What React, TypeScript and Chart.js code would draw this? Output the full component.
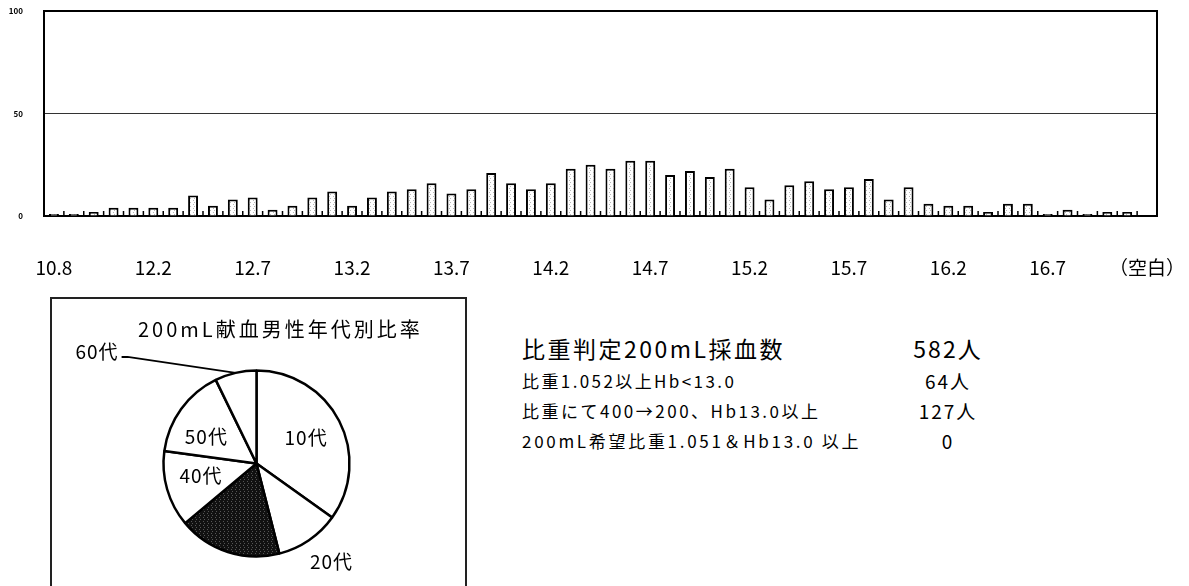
import React, { useEffect, useRef } from 'react';
import { Chart, registerables } from 'chart.js';

Chart.register(...registerables);

// Hemoglobin (Hb) classes on the x axis; only every fifth one is labelled.
const hbLabels = [
  '10.8', '11.5', '11.8', '12.0', '12.1',
  '12.2', '12.3', '12.4', '12.5', '12.6', '12.7', '12.8', '12.9', '13.0', '13.1',
  '13.2', '13.3', '13.4', '13.5', '13.6', '13.7', '13.8', '13.9', '14.0', '14.1',
  '14.2', '14.3', '14.4', '14.5', '14.6', '14.7', '14.8', '14.9', '15.0', '15.1',
  '15.2', '15.3', '15.4', '15.5', '15.6', '15.7', '15.8', '15.9', '16.0', '16.1',
  '16.2', '16.3', '16.4', '16.5', '16.6', '16.7', '16.8', '16.9', '17.0', '17.1',
  '（空白）',
];

// Donors per Hb class.
const hbCounts = [
  1, 1, 2, 4, 4,
  4, 4, 10, 5, 8, 9, 3, 5, 9, 12,
  5, 9, 12, 13, 16, 11, 13, 21, 16, 13,
  16, 23, 25, 23, 27, 27, 20, 22, 19, 23,
  14, 8, 15, 17, 13, 14, 18, 8, 14, 6,
  5, 5, 2, 6, 6, 1, 3, 1, 2, 2,
  0,
];

const yTickValues = [0, 50, 100];
const labelEvery = 5;

// Age breakdown of male 200 mL donors.
const ageTitle = '200mL献血男性年代別比率';
const ageLabels = ['10代', '20代', '30代', '40代', '50代', '60代'];
const ageCounts = [203, 65, 104, 77, 91, 42];

// Summary table on the right.
const summaryLabels = [
  '比重判定200mL採血数',
  '比重1.052以上Hb<13.0',
  '比重にて400→200、Hb13.0以上',
  '200mL希望比重1.051＆Hb13.0 以上',
];
const summaryValues = ['582人', '64人', '127人', '0'];

const FONT = "'Noto Sans CJK JP', 'Noto Sans', sans-serif";

function speckle(base: string, dot: string): CanvasPattern | string {
  const c = document.createElement('canvas');
  c.width = 4;
  c.height = 4;
  const g = c.getContext('2d');
  if (!g) return base;
  g.fillStyle = base;
  g.fillRect(0, 0, 4, 4);
  g.fillStyle = dot;
  g.fillRect(1, 0, 1, 1);
  g.fillRect(2, 2, 1, 1);
  const p = g.createPattern(c, 'repeat');
  return p || base;
}

// Short category separators rising from the x axis, plus the top/right frame.
const frameAndTicks = {
  id: 'frameAndTicks',
  afterDatasetsDraw(chart: any) {
    const { ctx, chartArea: a } = chart;
    const x = chart.scales.x;
    const n = chart.data.labels.length;
    ctx.save();
    ctx.strokeStyle = '#000';
    ctx.lineWidth = 1.5;
    for (let i = 1; i < n; i++) {
      const bx = (x.getPixelForValue(i - 1) + x.getPixelForValue(i)) / 2;
      ctx.beginPath();
      ctx.moveTo(bx, a.bottom);
      ctx.lineTo(bx, a.bottom - 5);
      ctx.stroke();
    }
    ctx.lineWidth = 2;
    ctx.beginPath();
    ctx.moveTo(a.left, a.top);
    ctx.lineTo(a.right, a.top);
    ctx.lineTo(a.right, a.bottom);
    ctx.stroke();
    ctx.restore();
  },
};

// How each slice is labelled: inside/outside at a radius factor (with an angle
// shift in degrees), via a leader line, or not at all (the dark slice).
type Placement = { r: number; shift: number } | 'leader' | 'none';
const sliceLabelPlacement: Placement[] = [
  { r: 0.6, shift: 0 },
  { r: 1.33, shift: -3 },
  'none',
  { r: 0.61, shift: 4 },
  { r: 0.61, shift: -8 },
  'leader',
];

const sliceLabels = {
  id: 'sliceLabels',
  afterDatasetsDraw(chart: any) {
    const { ctx } = chart;
    const arcs = chart.getDatasetMeta(0).data;
    ctx.save();
    ctx.font = `19px ${FONT}`;
    (ctx as any).letterSpacing = '1px';
    ctx.textBaseline = 'middle';
    ctx.fillStyle = '#000';
    arcs.forEach((arc: any, i: number) => {
      const { x, y, startAngle, endAngle, outerRadius } = arc.getProps(
        ['x', 'y', 'startAngle', 'endAngle', 'outerRadius'], true);
      const mid = (startAngle + endAngle) / 2;
      const place = sliceLabelPlacement[i];
      if (place === 'none') return;
      if (place === 'leader') {
        const ex = x + outerRadius * Math.cos(mid);
        const ey = y + outerRadius * Math.sin(mid);
        const lx = ex - 114;
        const ly = ey - 16;
        ctx.strokeStyle = '#000';
        ctx.lineWidth = 2;
        ctx.beginPath();
        ctx.moveTo(ex, ey);
        ctx.lineTo(lx + 6, ly);
        ctx.lineTo(lx, ly);
        ctx.stroke();
        ctx.textAlign = 'right';
        ctx.fillText(ageLabels[i], lx - 3, ly - 5);
        return;
      }
      const ang = mid + (place.shift * Math.PI) / 180;
      const r = outerRadius * place.r;
      ctx.textAlign = 'center';
      ctx.fillText(ageLabels[i], x + r * Math.cos(ang), y + r * Math.sin(ang));
    });
    ctx.restore();
  },
};

function HbChart() {
  const ref = useRef<HTMLCanvasElement>(null);
  useEffect(() => {
    if (!ref.current) return;
    const chart = new Chart(ref.current, {
      type: 'bar',
      data: {
        labels: hbLabels,
        datasets: [
          {
            data: hbCounts,
            backgroundColor: speckle('#ffffff', '#b8b8b8') as any,
            borderColor: '#000',
            borderWidth: 2,
            barPercentage: 0.5,
            categoryPercentage: 1,
          },
        ],
      },
      options: {
        responsive: false,
        animation: false,
        layout: { padding: { left: 0, right: 32, top: 11, bottom: 0 } },
        plugins: { legend: { display: false }, tooltip: { enabled: false } },
        scales: {
          x: {
            grid: { display: false, drawTicks: false },
            border: { display: true, color: '#000', width: 2 },
            ticks: {
              autoSkip: false,
              maxRotation: 0,
              padding: 40,
              color: '#000',
              font: { family: FONT, size: 19 },
              callback: (_v: any, i: number) => (i % labelEvery === 0 ? hbLabels[i] : ''),
            },
            afterFit: (s: any) => {
              s.height = 74;
              s.paddingLeft = 0;
              s.paddingRight = 0;
            },
          },
          y: {
            min: 0,
            max: 100,
            afterBuildTicks: (s: any) => {
              s.ticks = yTickValues.map((v) => ({ value: v }));
            },
            grid: {
              drawTicks: false,
              color: (c: any) => (c.tick && c.tick.value === 50 ? '#333' : 'rgba(0,0,0,0)'),
              lineWidth: 1,
            },
            border: { display: true, color: '#000', width: 2 },
            ticks: {
              padding: 21,
              color: '#000',
              font: { family: FONT, size: 8, weight: 'bold' },
            },
            afterFit: (s: any) => {
              s.width = 44;
              s.paddingTop = 0;
              s.paddingBottom = 0;
            },
          },
        },
      },
      plugins: [frameAndTicks],
    } as any);
    return () => chart.destroy();
  }, []);
  return (
    <canvas
      ref={ref}
      width={1189}
      height={290}
      style={{ position: 'absolute', left: 0, top: 0, width: 1189, height: 290 }}
    />
  );
}

function AgePie() {
  const ref = useRef<HTMLCanvasElement>(null);
  useEffect(() => {
    if (!ref.current) return;
    const chart = new Chart(ref.current, {
      type: 'pie',
      data: {
        labels: ageLabels,
        datasets: [
          {
            data: ageCounts,
            backgroundColor: ['#fff', '#fff', speckle('#111111', '#555555'), '#fff', '#fff', '#fff'] as any,
            borderColor: '#000',
            borderWidth: 2.5,
            radius: 93,
          },
        ],
      },
      options: {
        responsive: false,
        animation: false,
        layout: { padding: 0 },
        plugins: { legend: { display: false }, tooltip: { enabled: false } },
      },
      plugins: [sliceLabels],
    } as any);
    return () => chart.destroy();
  }, []);
  return (
    <canvas
      ref={ref}
      width={413}
      height={333}
      style={{ position: 'absolute', left: 50, top: 297, width: 413, height: 333 }}
    />
  );
}

function TextLine(props: {
  x: number; cy: number; size: number; spacing: number; children: React.ReactNode; center?: boolean;
}) {
  const { x, cy, size, spacing, children, center } = props;
  return (
    <div
      style={{
        position: 'absolute',
        left: x,
        top: cy - size / 2,
        fontFamily: FONT,
        fontSize: size,
        lineHeight: `${size}px`,
        letterSpacing: spacing,
        whiteSpace: 'nowrap',
        color: '#000',
        transform: center ? 'translateX(-50%)' : undefined,
      }}
    >
      {children}
    </div>
  );
}

export default function App() {
  const rowY = [348, 380, 410, 440];
  const rowSize = [23, 17, 17, 17];
  const rowSpacing = [2.5, 2.4, 2.5, 2.7];
  const valSize = [23, 19, 19, 19];
  return (
    <div
      style={{
        position: 'fixed', left: 0, top: 0, width: 1189, height: 586,
        overflow: 'hidden', background: '#fff',
      }}
    >
      <HbChart />
      <div
        style={{
          position: 'absolute', left: 50, top: 297, width: 413, height: 300,
          border: '2px solid #222',
        }}
      />
      <AgePie />
      <TextLine x={138} cy={329} size={20} spacing={3}>{ageTitle}</TextLine>
      {summaryLabels.map((t, i) => (
        <TextLine key={t} x={522} cy={rowY[i]} size={rowSize[i]} spacing={rowSpacing[i]}>{t}</TextLine>
      ))}
      {summaryValues.map((t, i) => (
        <TextLine key={i} x={948} cy={rowY[i]} size={valSize[i]} spacing={2} center>{t}</TextLine>
      ))}
    </div>
  );
}
